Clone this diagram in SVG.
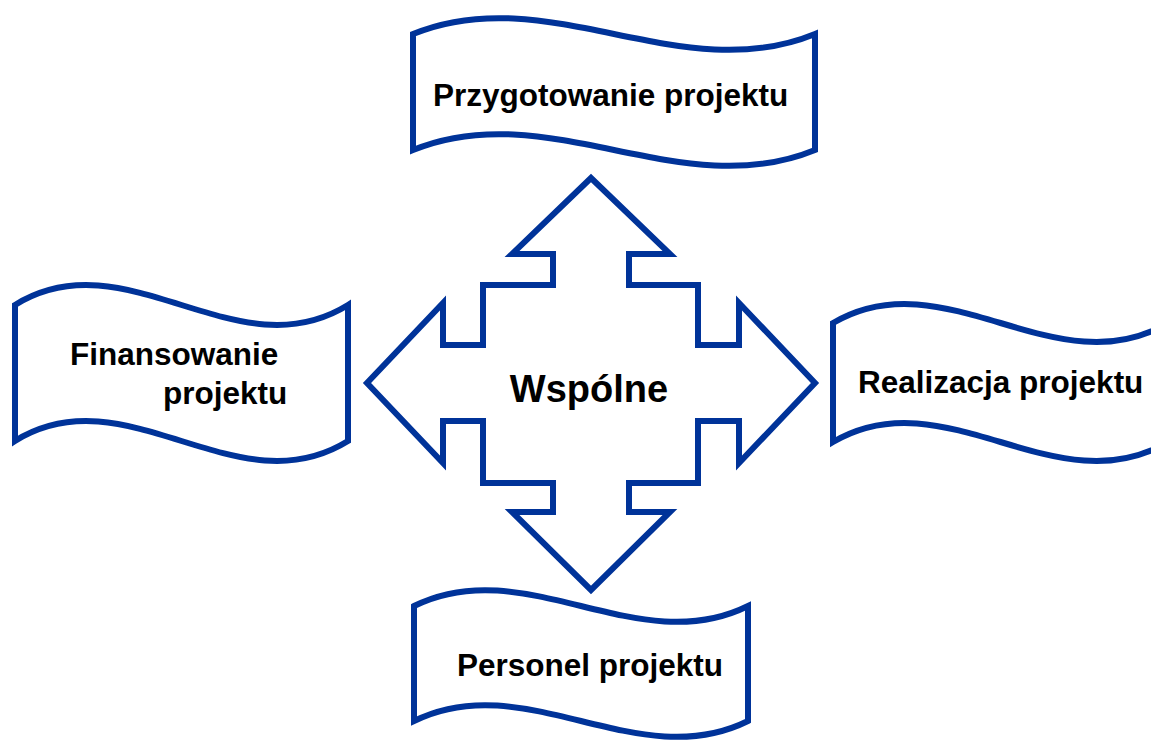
<svg xmlns="http://www.w3.org/2000/svg" width="1151" height="742" viewBox="0 0 1151 742">
  <style>
    .shape { fill: #ffffff; stroke: #003399; stroke-width: 6; stroke-linejoin: miter; stroke-miterlimit: 10; }
    .lbl { font-family: "Liberation Sans", Arial, sans-serif; font-weight: bold; font-size: 31.5px; fill: #000000; }
    .center { font-size: 38px; }
  </style>
  <rect width="1151" height="742" fill="#ffffff"/>

  <g id="wspolne">
    <path class="shape" d="M591,178 L670,254 L629,254 L629,285 L698,285 L698,345 L739,345 L739,303 L815,383 L739,463 L739,421 L698,421 L698,483 L629,483 L629,512 L670,512 L591,590 L512,512 L553,512 L553,483 L483,483 L483,421 L443,421 L443,463 L367,383 L443,303 L443,345 L483,345 L483,285 L553,285 L553,254 L512,254 Z"/>
    <text class="lbl center" x="589" y="402" text-anchor="middle">Wspólne</text>
  </g>

  <g id="przygotowanie">
    <path class="shape" d="M413,34 C547,-21 681,89 815,34 L815,150 C681,205 547,95 413,150 Z"/>
    <text class="lbl" x="433" y="106">Przygotowanie projektu</text>
  </g>

  <g id="finansowanie">
    <path class="shape" d="M15,305 C126,236 237,374 348,305 L348,441 C237,510 126,372 15,441 Z"/>
    <text class="lbl" x="70" y="365">Finansowanie</text>
    <text class="lbl" x="163" y="404">projektu</text>
  </g>

  <g id="realizacja">
    <path class="shape" d="M833,323 C945,257 1056,389 1168,323 L1168,442 C1056,508 945,376 833,442 Z"/>
    <text class="lbl" x="858" y="393">Realizacja projektu</text>
  </g>

  <g id="personel">
    <path class="shape" d="M414,606 C525,551 637,661 748,606 L748,721 C637,776 525,666 414,721 Z"/>
    <text class="lbl" x="457" y="676">Personel projektu</text>
  </g>

  <g id="connectors"></g>
</svg>
